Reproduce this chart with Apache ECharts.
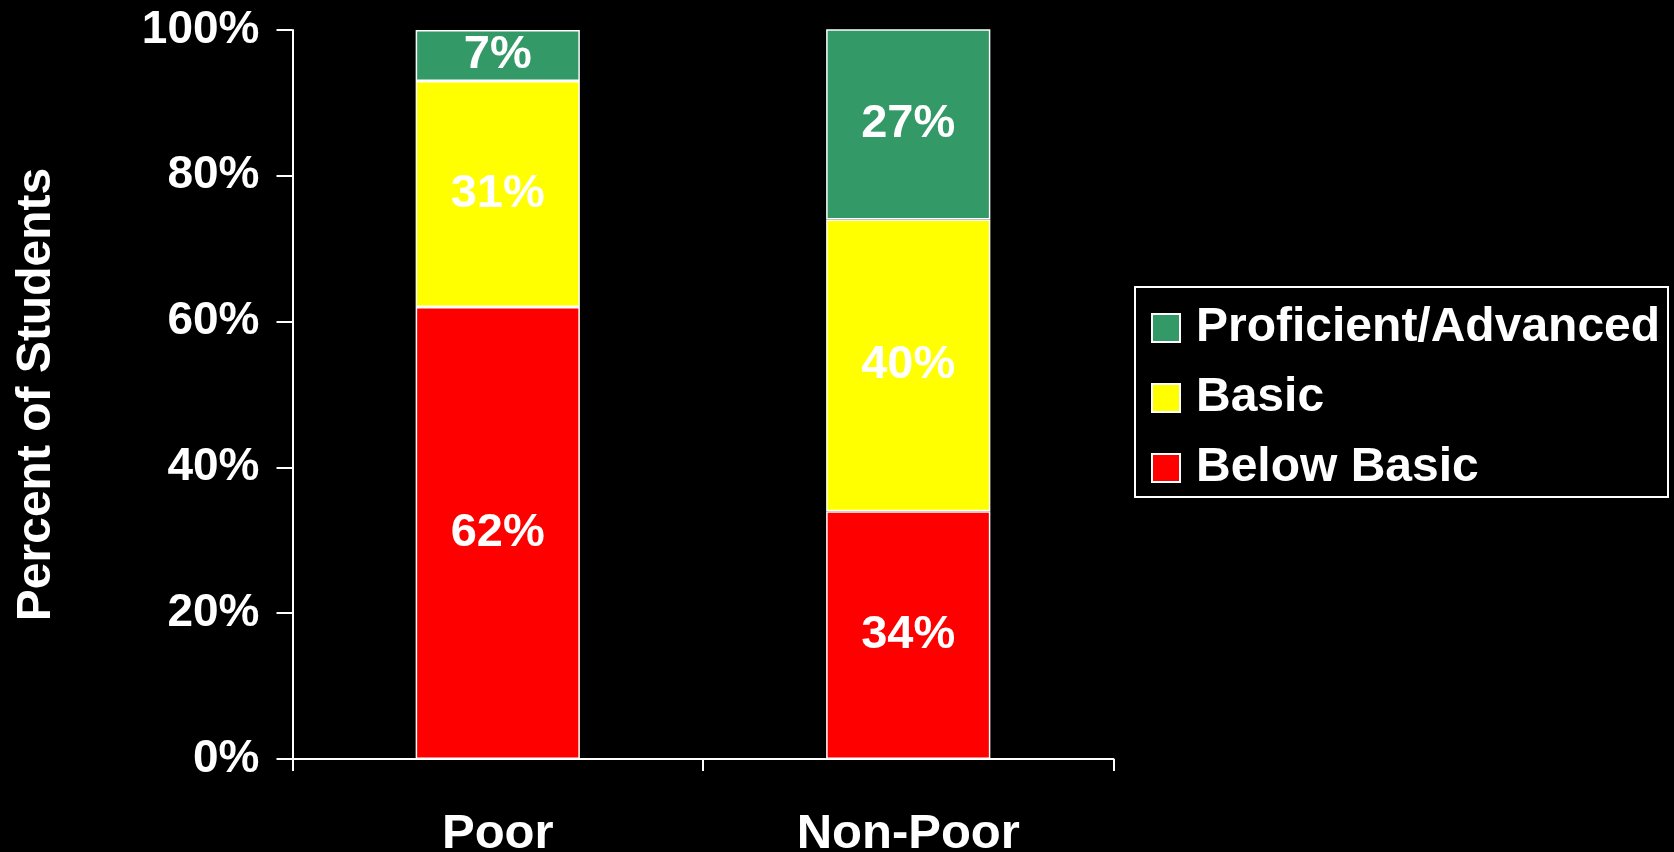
<!DOCTYPE html>
<html>
<head>
<meta charset="utf-8">
<title>Percent of Students by Proficiency Level</title>
<script src="https://cdn.jsdelivr.net/npm/echarts@6/dist/echarts.min.js"></script>
<style>
  html, body { margin: 0; padding: 0; background: #000; }
  #chart { width: 1674px; height: 852px; }
</style>
</head>
<body>
<div id="chart"></div>
<script>
// Student groups on the category axis
const categories = ['Poor', 'Non-Poor'];

// Share of students at each level, in percent
const belowBasic = [62, 34];
const basic = [31, 40];
const proficientAdvanced = [7, 27];

// Value axis ticks
const yTicks = [0, 20, 40, 60, 80, 100];

const seriesNames = ['Below Basic', 'Basic', 'Proficient/Advanced'];
const seriesColors = ['#ff0000', '#ffff00', '#339966'];
const seriesValues = [belowBasic, basic, proficientAdvanced];

const FONT = '"Liberation Sans", Arial, Helvetica, sans-serif';

const chart = echarts.init(document.getElementById('chart'), null, { renderer: 'canvas' });

const series = seriesNames.map((name, i) => ({
  name: name,
  type: 'bar',
  stack: 'total',
  barWidth: '40%',
  data: seriesValues[i],
  itemStyle: { color: seriesColors[i], borderColor: '#ffffff', borderWidth: 1.5 },
  label: {
    show: true,
    position: 'inside',
    formatter: p => p.value + '%',
    color: '#ffffff',
    fontFamily: FONT,
    fontWeight: 'bold',
    fontSize: 47
  },
  emphasis: { disabled: true }
}));

chart.setOption({
  backgroundColor: '#000000',
  animation: false,
  grid: { left: 292.5, right: 560.5, top: 30, bottom: 93, containLabel: false, outerBoundsMode: 'none' },
  // Frame around the legend
  graphic: [{
    type: 'rect',
    shape: { x: 1135, y: 287, width: 533, height: 210 },
    style: { fill: 'transparent', stroke: '#ffffff', lineWidth: 2 },
    z: 0
  }],
  legend: {
    orient: 'vertical',
    left: 1146,
    top: 299,
    data: ['Proficient/Advanced', 'Basic', 'Below Basic'],
    icon: 'rect',
    itemWidth: 28,
    itemHeight: 28,
    itemGap: 22,
    selectedMode: false,
    textStyle: {
      color: '#ffffff',
      fontFamily: FONT,
      fontWeight: 'bold',
      fontSize: 48,
      padding: [0, 0, 0, 11]
    }
  },
  xAxis: {
    type: 'category',
    data: categories,
    boundaryGap: true,
    axisLine: { show: true, lineStyle: { color: '#ffffff', width: 2 } },
    axisTick: { show: true, length: 12, alignWithLabel: false, lineStyle: { color: '#ffffff', width: 2 } },
    axisLabel: {
      color: '#ffffff',
      fontFamily: FONT,
      fontWeight: 'bold',
      fontSize: 49,
      margin: 51
    },
    splitLine: { show: false }
  },
  yAxis: {
    type: 'value',
    min: yTicks[0],
    max: yTicks[yTicks.length - 1],
    interval: yTicks[1] - yTicks[0],
    name: 'Percent of Students',
    nameLocation: 'middle',
    nameGap: 232,
    nameRotate: 90,
    nameTextStyle: {
      color: '#ffffff',
      fontFamily: FONT,
      fontWeight: 'bold',
      fontSize: 48
    },
    axisLine: { show: true, lineStyle: { color: '#ffffff', width: 2 } },
    axisTick: { show: true, inside: false, length: 16, lineStyle: { color: '#ffffff', width: 2 } },
    axisLabel: {
      color: '#ffffff',
      fontFamily: FONT,
      fontWeight: 'bold',
      fontSize: 46,
      margin: 33,
      formatter: v => v + '%'
    },
    splitLine: { show: false }
  },
  series: series
});
</script>
</body>
</html>
